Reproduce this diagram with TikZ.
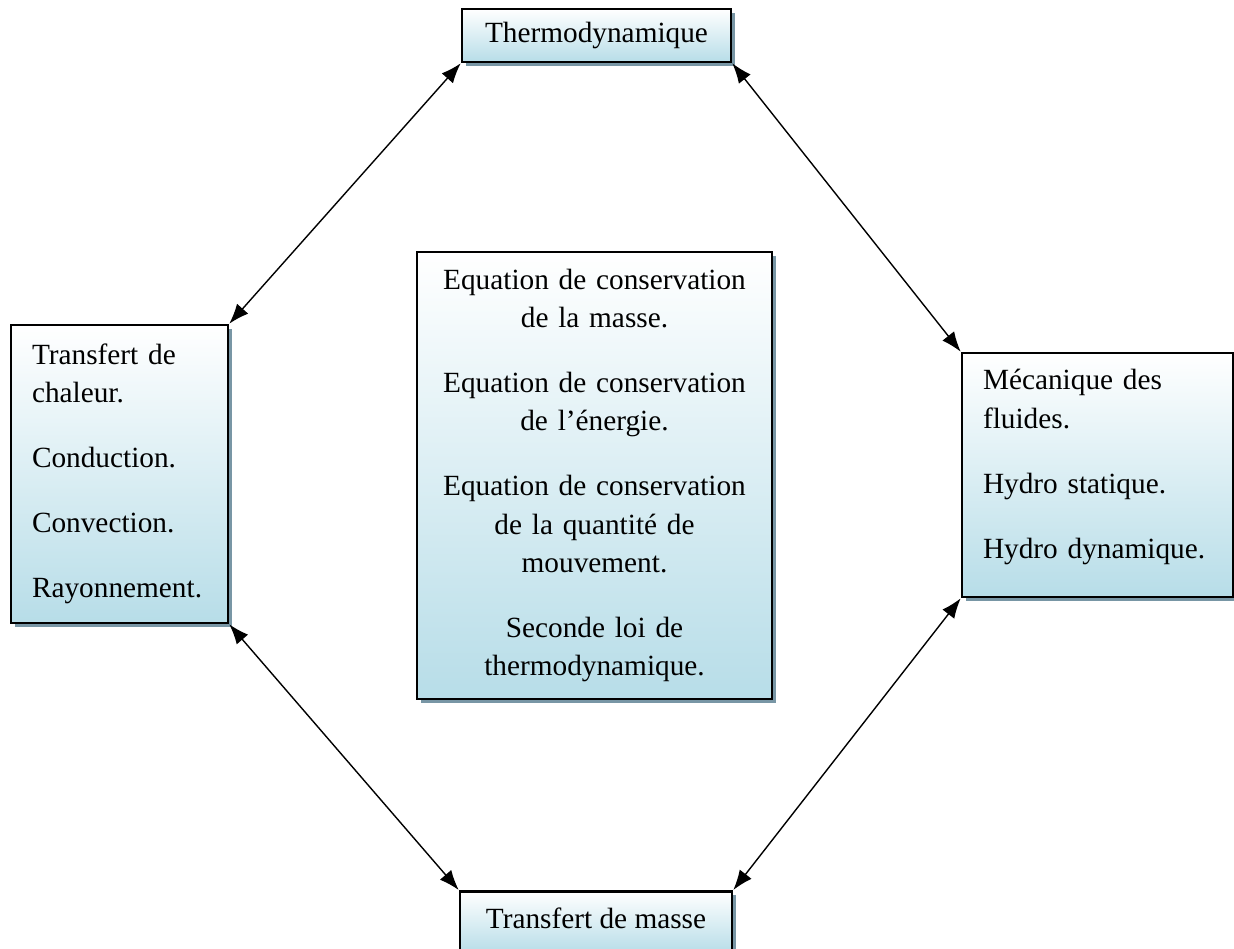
\documentclass[tikz,border=0pt]{standalone}
\usepackage{fontspec}
\setmainfont{Liberation Serif}
\usetikzlibrary{arrows.meta,shadows}

\definecolor{boxblue}{RGB}{183,221,232}
\definecolor{shadeblue}{RGB}{120,150,165}

\tikzset{
  topic/.style={draw=black, line width=2.6pt, top color=white, bottom color=boxblue,
    general shadow={fill=shadeblue, shadow xshift=4pt, shadow yshift=-4pt},
    font=\fontsize{29.3}{38.3}\selectfont, inner sep=0pt},
  link/.style={<->, line width=1.4pt},
}

\begin{document}
\begin{tikzpicture}[x=1pt,y=-1pt,>={Latex[length=20pt,width=15pt]}]
\useasboundingbox (0,0) rectangle (1234,948);
%%
  % Node: thermo
  \node[topic, minimum width=269pt, minimum height=53pt] (thermo) at (596.5,35.5) {Thermodynamique};
  % Node: heat
  \node[topic, minimum width=217pt, minimum height=298pt, text width=175pt, align=left] (heat) at (119.5,474)
    {Transfert de\\chaleur.\\[26.7pt]Conduction.\\[26.7pt]Convection.\\[26.7pt]Rayonnement.};
  % Node: laws
  \node[topic, minimum width=355pt, minimum height=447pt, text width=320pt, align=center] (laws) at (594.5,475.5)
    {Equation de conservation\\de la masse.\\[26.7pt]Equation de conservation\\de l'énergie.\\[26.7pt]Equation de conservation\\de la quantité de\\mouvement.\\[26.7pt]Seconde loi de\\thermodynamique.};
  % Node: fluid (empty last line lifts the text a little)
  \node[topic, minimum width=271pt, minimum height=244pt, text width=229pt, align=left] (fluid) at (1097.5,475)
    {Mécanique des\\fluides.\\[26.7pt]Hydro statique.\\[26.7pt]Hydro dynamique.\\[-16pt]\mbox{}};
  % Node: mass (runs off the bottom edge)
  \node[topic, minimum width=272pt, minimum height=62pt, anchor=north, align=center] (mass) at (596,890)
    {Transfert de masse\\[-30pt]\mbox{}};
%
  % Edge: thermo <-> heat
  \draw[link] (thermo.south west) -- (heat.north east);
  % Edge: thermo <-> fluid
  \draw[link] (thermo.south east) -- (fluid.north west);
  % Edge: heat <-> mass
  \draw[link] (heat.south east) -- (mass.north west);
  % Edge: fluid <-> mass
  \draw[link] (fluid.south west) -- (mass.north east);
%
\end{tikzpicture}
\end{document}
